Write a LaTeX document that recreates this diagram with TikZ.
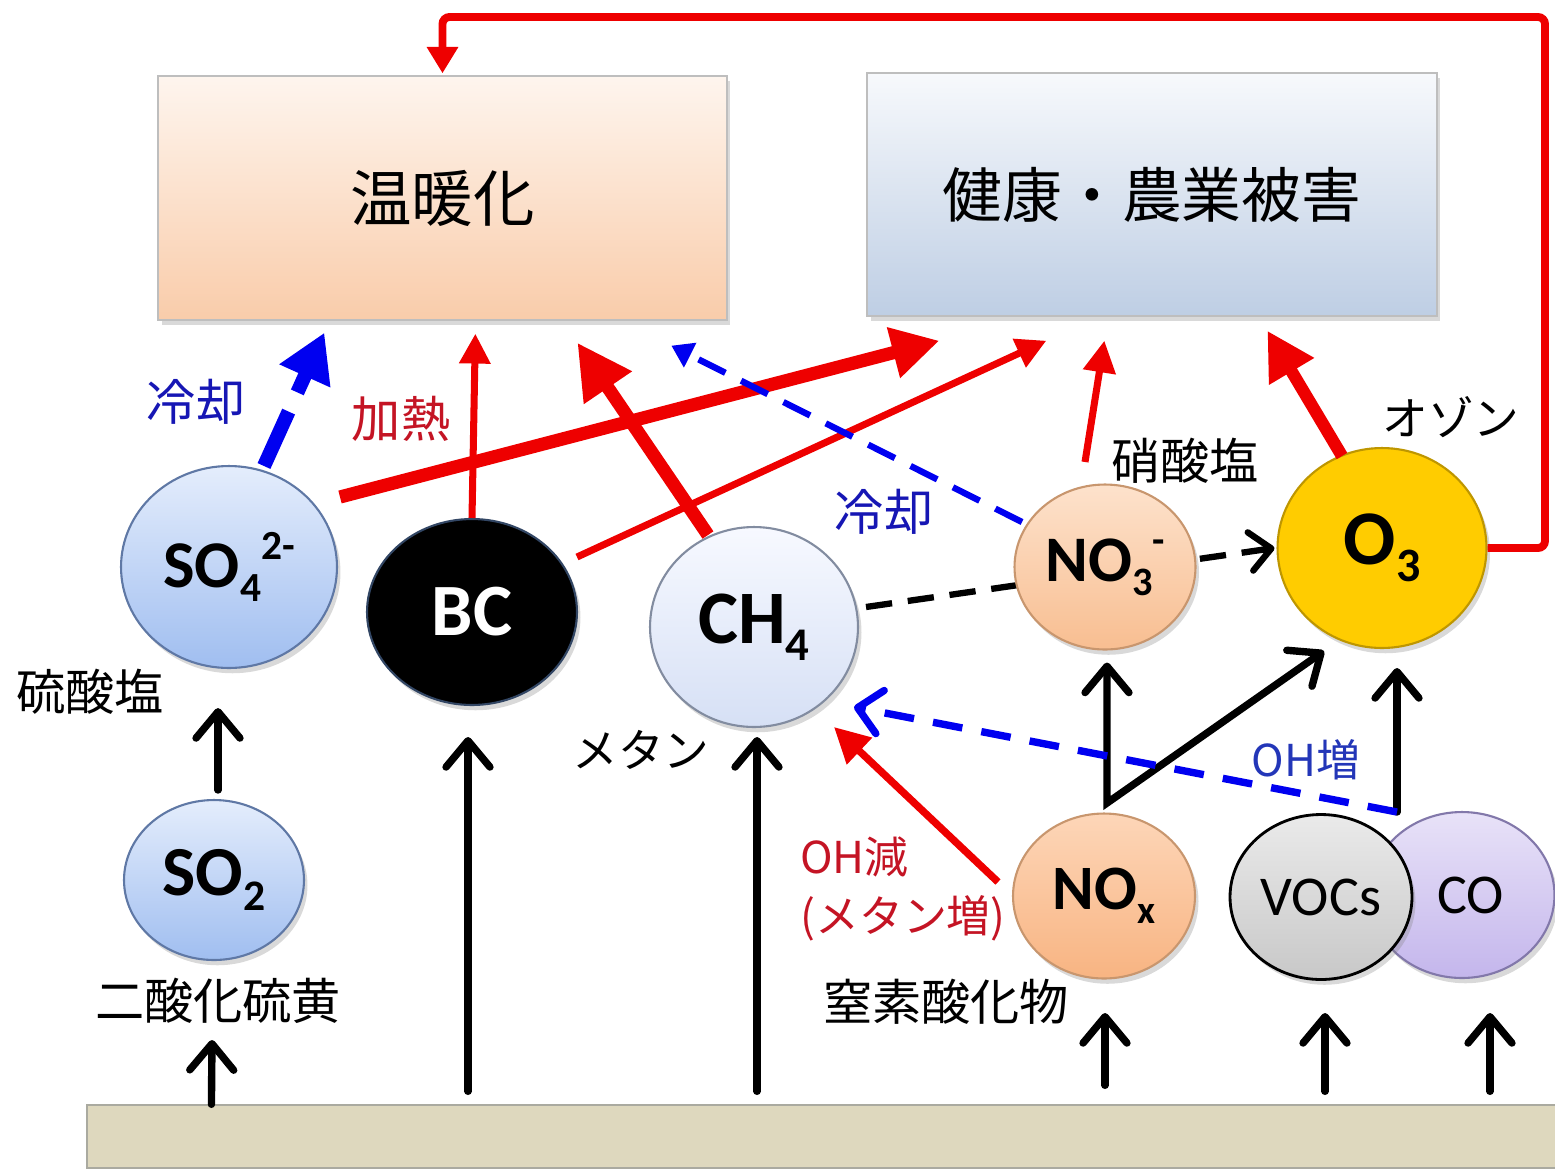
\documentclass[tikz,border=0pt]{standalone}
\usepackage{fontspec}
\usepackage{graphicx}
\setmainfont{Noto Sans CJK JP}
\newfontfamily\calfont{Carlito}
\usetikzlibrary{arrows.meta,shapes.geometric,calc,shadows}
\pgfdeclarelayer{bg}
\pgfsetlayers{bg,main}
\definecolor{arrred}{RGB}{238,0,0}
\definecolor{lblred}{RGB}{196,20,36}
\definecolor{arrblue}{RGB}{0,0,240}
\definecolor{lblblue}{RGB}{22,22,180}
\definecolor{ohblue}{RGB}{35,54,184}
\newcommand\dn[1]{\raisebox{-0.22em}{\scalebox{0.62}{#1}}}
\newcommand\upx[1]{\raisebox{0.42em}{\scalebox{0.62}{#1}}}
\tikzset{barb/.tip={Straight Barb[length=15pt,width=25pt,line cap=round,line join=round]}}
\begin{document}
\begin{tikzpicture}[x=0.02cm,y=-0.02cm,
  lbl/.style={inner sep=0pt, font=\fontsize{28pt}{34pt}\selectfont},
  shad/.style={drop shadow={shadow xshift=2pt,shadow yshift=-3pt,opacity=0.3}},
  ball/.style={ellipse, inner sep=0pt, line width=1.2pt, shad,
    font=\calfont\bfseries\fontsize{38pt}{40pt}\selectfont},
  box/.style={rectangle, inner sep=0pt, draw={rgb,255:red,190;green,190;blue,190}, line width=0.8pt, shad},
  redT/.style={draw=arrred, line width=7.5pt, -{Triangle[length=27pt,width=28pt]}},
  redM/.style={draw=arrred, line width=4pt, -{Triangle[length=17pt,width=17pt]}},
  blkA/.style={draw=black, line width=4.2pt, line cap=round, -{barb}},
  blueT/.style={draw=arrblue, line width=8pt, dash pattern=on 34pt off 12pt,
    -{Triangle[length=27pt,width=30pt]}},
  blueM/.style={draw=arrblue, line width=3.6pt, dash pattern=on 17pt off 10pt,
    -{Triangle[length=12pt,width=15pt]}},
  blueB/.style={draw=arrblue, line width=4.2pt, dash pattern=on 17pt off 11pt,
    -{Straight Barb[length=13pt,width=25pt,line cap=round,line join=round]}},
  blkD/.style={draw=black, line width=3.6pt, dash pattern=on 15pt off 9pt,
    -{Straight Barb[length=12pt,width=22pt,line cap=round,line join=round]}}
]
\useasboundingbox (0,0) rectangle (1555,1171);

% boxes
\node[box, minimum width=11.38cm, minimum height=4.88cm,
  top color={rgb,255:red,254;green,245;blue,238},
  bottom color={rgb,255:red,249;green,204;blue,170},
  font=\fontsize{35pt}{40pt}\selectfont] (warm) at (442.5,198) {温暖化};
\node[box, minimum width=11.4cm, minimum height=4.86cm,
  top color={rgb,255:red,247;green,249;blue,252},
  bottom color={rgb,255:red,190;green,206;blue,228},
  font=\fontsize{34pt}{40pt}\selectfont] (health) at (1152,194.5) {健康・農業被害};
\node[rectangle, inner sep=0pt, minimum width=29.46cm, minimum height=1.26cm,
  fill={rgb,255:red,222;green,216;blue,190},
  draw={rgb,255:red,170;green,170;blue,160}, line width=0.8pt] (ground) at (823.5,1136.5) {};

% balls
\node[ball, minimum width=4.32cm, minimum height=4.04cm,
  top color={rgb,255:red,228;green,237;blue,252}, bottom color={rgb,255:red,160;green,190;blue,240},
  draw={rgb,255:red,95;green,120;blue,165}] (so4) at (229,567) {SO\dn{4}\upx{2-}};
\node[ball, minimum width=4.2cm, minimum height=3.72cm, fill=black,
  draw={rgb,255:red,50;green,70;blue,100}, text=white,
  font=\calfont\bfseries\fontsize{42pt}{44pt}\selectfont] (bc) at (472,612) {BC};
\node[ball, minimum width=4.16cm, minimum height=4.0cm,
  top color={rgb,255:red,247;green,249;blue,255}, bottom color={rgb,255:red,214;green,224;blue,245},
  draw={rgb,255:red,130;green,140;blue,160},
  font=\calfont\bfseries\fontsize{43pt}{45pt}\selectfont] (ch4) at (754,627) {CH\dn{4}};
\node[ball, minimum width=3.62cm, minimum height=3.3cm,
  top color={rgb,255:red,253;green,226;blue,204}, bottom color={rgb,255:red,248;green,190;blue,145},
  draw={rgb,255:red,200;green,150;blue,110},
  font=\calfont\bfseries\fontsize{37pt}{40pt}\selectfont] (no3) at (1105,567) {NO\dn{3}\upx{-}};
\node[ball, minimum width=4.18cm, minimum height=4.0cm,
  fill={rgb,255:red,255;green,204;blue,0}, draw={rgb,255:red,190;green,150;blue,0},
  font=\calfont\bfseries\fontsize{44pt}{46pt}\selectfont] (o3) at (1382,548) {O\dn{3}};
\node[ball, minimum width=3.6cm, minimum height=3.2cm,
  top color={rgb,255:red,228;green,237;blue,252}, bottom color={rgb,255:red,160;green,190;blue,240},
  draw={rgb,255:red,95;green,120;blue,165},
  font=\calfont\bfseries\fontsize{40pt}{42pt}\selectfont] (so2) at (214,880) {SO\dn{2}};
\node[ball, minimum width=3.64cm, minimum height=3.3cm,
  top color={rgb,255:red,253;green,214;blue,184}, bottom color={rgb,255:red,248;green,180;blue,130},
  draw={rgb,255:red,200;green,150;blue,110},
  font=\calfont\bfseries\fontsize{36pt}{40pt}\selectfont] (nox) at (1104,896) {NO\dn{x}};
\node[ball, minimum width=3.7cm, minimum height=3.32cm,
  top color={rgb,255:red,232;green,226;blue,248}, bottom color={rgb,255:red,196;green,182;blue,236},
  draw={rgb,255:red,130;green,120;blue,170},
  font=\calfont\fontsize{32pt}{36pt}\selectfont] (co) at (1462,895) {\hspace*{0.35cm}CO};
\node[ball, minimum width=3.64cm, minimum height=3.3cm,
  top color={rgb,255:red,234;green,234;blue,234}, bottom color={rgb,255:red,200;green,200;blue,200},
  draw=black, line width=1.6pt,
  font=\calfont\fontsize{32pt}{36pt}\selectfont] (vocs) at (1321,897) {VOCs};

% labels
\node[lbl, text=lblblue] (cool1) at (196,402) {冷却};
\node[lbl, text=lblred] (heat) at (401,419) {加熱};
\node[lbl] (so4l) at (90,692) {硫酸塩};
\node[lbl] (so2l) at (218,1001) {二酸化硫黄};
\node[lbl, font=\fontsize{26pt}{30pt}\selectfont] (ch4l) at (641,750) {メタン};
\node[lbl, text=lblblue] (cool2) at (884,512) {冷却};
\node[lbl] (no3l) at (1185,461) {硝酸塩};
\node[lbl, font=\fontsize{26pt}{30pt}\selectfont] (o3l) at (1451,417) {オゾン};
\node[lbl, text=ohblue, font=\fontsize{25pt}{30pt}\selectfont] (ohup) at (1306,760) {OH増};
\node[lbl, text=lblred, align=left, anchor=west, font=\fontsize{25pt}{34pt}\selectfont] (ohdn) at (800,889) {OH減\\(メタン増)};
\node[lbl] (noxl) at (946,1002) {窒素酸化物};

% free bend points
\coordinate (nv) at ($(nox)+(3,-93)$);
\coordinate (vc) at ($(vocs)+(76,-85)$);
\coordinate (topR) at (1545,17);

% background dashed CH4 -> O3
\begin{pgfonlayer}{bg}
\draw[blkD] ($(ch4)+(112,-20)$) -- ($(o3.west)+(-2,0)$);
\end{pgfonlayer}

% to warming / health
\draw[redT] ($(so4)+(111,-70)$) -- ($(health.south west)+(73,24)$);
\draw[redM] (bc.north) -- ($(warm.south west)+(318,13)$);
\draw[redM] ($(bc)+(105,-55)$) -- ($(health.south west)+(180,24)$);
\draw[redT, -{Triangle[length=31pt,width=31pt]}] ($(ch4)+(-46,-92)$) -- ($(warm.south west)+(420,22)$);
\draw[blueM] ($(no3)+(-83,-45)$) -- ($(warm.south west)+(514,25)$);
\draw[redM, -{Triangle[length=18pt,width=18pt]}] ($(no3)+(-20,-105)$) -- ($(health.south west)+(238,24)$);
\draw[redT, line width=7pt] ($(o3)+(-40,-92)$) -- ($(health.south west)+(401,14)$);
\draw[blueT] ($(so4)+(35,-101)$) -- ($(warm.south west)+(167,12)$);
\draw[draw=arrred, line width=4.5pt, rounded corners=4pt, -{Triangle[length=15pt,width=17pt]}]
  (o3.east) -| (topR) -| ($(warm.north)+(0,-2)$);

% lower connections
\draw[draw=black, line width=4.2pt, line cap=round, line join=miter, {barb}-{barb}] ($(no3.south)+(2,12)$) -- (nv) -- ($(o3)+(-58,103)$);
\draw[blkA] (vc) -- ($(o3)+(15,120)$);
\draw[blueB] (vc) -- ($(ch4)+(100,80)$);
\draw[redM, line width=4.2pt, -{Triangle[length=20pt,width=20pt]}] ($(nox)+(-106,-14)$) -- ($(ch4)+(80,100)$);
\draw[blkA] ($(so2)+(4,-90)$) -- ($(so4.south)+(-11,39)$);

% from ground
\draw[blkA] ($(ground.north west)+(125,0)$) -- ($(so2)+(-2,160)$);
\draw[blkA] ($(bc |- ground.north)+(-4,-13)$) -- ($(bc)+(-4,125)$);
\draw[blkA] ($(ch4 |- ground.north)+(3,-13)$) -- ($(ch4)+(3,110)$);
\draw[blkA] ($(nox |- ground.north)+(1,-19)$) -- ($(nox)+(1,117)$);
\draw[blkA] ($(vocs |- ground.north)+(4,-13)$) -- ($(vocs)+(4,116)$);
\draw[blkA] ($(co |- ground.north)+(28,-13)$) -- ($(co)+(28,118)$);
\end{tikzpicture}
\end{document}
